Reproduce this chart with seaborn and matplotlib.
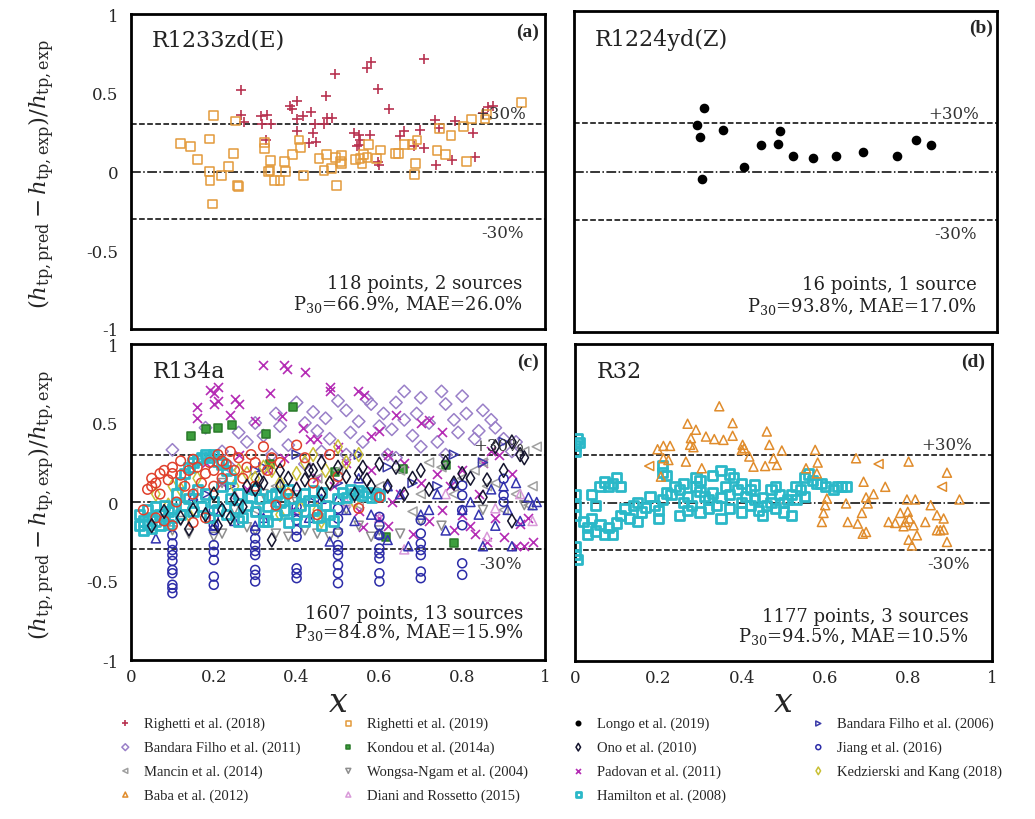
import matplotlib
matplotlib.use("Agg")
import matplotlib.pyplot as plt
import seaborn as sns
import pandas as pd
from matplotlib.ticker import MultipleLocator, FuncFormatter

sns.set_style("white")
plt.rcParams["font.family"] = ["DejaVu Serif"]
plt.rcParams["mathtext.fontset"] = "dejavuserif"
plt.rcParams["axes.unicode_minus"] = False

# ---------------- data (x = vapour quality, y = relative deviation) ----------------
# (a) R1233zd(E)
righetti2018_a = [(.265,.518),(.265,.36),(.273,.313),(.315,.355),(.329,.359),(.316,.30),(.339,.30),(.325,.20),
    (.384,.419),(.39,.40),(.402,.448),(.402,.334),(.416,.355),(.434,.38),(.444,.30),(.44,.243),(.43,.18),(.446,.186),
    (.402,.258),(.471,.482),(.474,.338),(.486,.342),(.466,.30),(.493,.617),(.538,.247),(.55,.233),(.554,.20),(.55,.169),
    (.546,.159),(.569,.655),(.58,.693),(.578,.233),(.596,.524),(.622,.40),(.596,.059),(.598,.042),(.649,.228),(.659,.258),
    (.697,.264),(.708,.715),(.708,.148),(.735,.328),(.745,.275),(.737,.042),(.775,.07),(.783,.321),(.826,.243),(.831,.095),
    (.851,.37),(.863,.412),(.875,.419),(.684,.159)]
righetti2019_a = [(.119,.18),(.143,.159),(.161,.074),(.19,.207),(.199,.355),(.19,0),(.191,-.055),(.197,-.207),(.218,-.025),
    (.235,.032),(.247,.116),(.253,.321),(.257,-.089),(.259,-.095),(.323,.186),(.323,.144),(.333,0),(.336,.004),(.337,.07),
    (.347,-.059),(.36,-.055),(.373,0),(.371,.063),(.391,.11),(.406,.20),(.41,.152),(.416,-.025),(.454,.085),(.466,.008),
    (.472,.11),(.484,.017),(.494,.089),(.508,.10),(.508,.053),(.506,.063),(.496,-.089),(.542,.078),(.553,.085),(.558,.053),
    (.57,.089),(.562,.106),(.574,.169),(.593,.085),(.602,.137),(.639,.116),(.647,.116),(.66,.173),(.679,.169),(.691,.20),
    (.687,.053),(.685,-.021),(.739,.131),(.745,.271),(.759,.11),(.773,.228),(.803,.285),(.81,.063),(.823,.334),(.855,.334),
    (.944,.44),(.858,.36)]
# (b) R1224yd(Z)
longo2019_b = [(.29,.288),(.307,.397),(.299,.218),(.303,-.049),(.352,.259),(.402,.025),(.442,.164),(.482,.173),
    (.488,.251),(.518,.095),(.566,.084),(.62,.099),(.683,.123),(.764,.099),(.809,.197),(.843,.168)]
# (c) R134a
bandara2011_c = [(.10,.33),(.18,.47),(.22,.32),(.26,.44),(.28,.38),(.30,.50),(.32,.42),(.35,.56),(.36,.48),(.38,.36),
    (.40,.63),(.42,.50),(.44,.57),(.45,.45),(.47,.53),(.48,.40),(.50,.64),(.52,.58),(.53,.44),(.55,.51),(.56,.38),(.58,.62),
    (.60,.48),(.61,.56),(.63,.46),(.64,.63),(.66,.52),(.68,.42),(.69,.56),(.70,.66),(.72,.50),(.74,.38),(.75,.70),(.76,.62),
    (.78,.52),(.79,.44),(.80,.67),(.81,.56),(.83,.40),(.84,.45),(.85,.58),(.87,.52),(.88,.47),(.90,.40),(.92,.32),(.93,.38),
    (.62,.30),(.52,.30),(.46,.32),(.34,.30),(.24,.22),(.70,.35),(.76,.30),(.66,.70),(.57,.65),(.64,.28),(.42,.24)]
padovan2011_c = [(.16,.60),(.16,.53),(.19,.71),(.20,.69),(.21,.73),(.20,.62),(.21,.64),(.25,.65),(.26,.62),(.24,.55),
    (.30,.51),(.32,.87),(.336,.69),(.37,.87),(.376,.84),(.364,.545),(.42,.82),(.416,.47),(.432,.40),(.48,.73),(.48,.70),
    (.548,.70),(.564,.68),(.60,.45),(.64,.55),(.70,.50),(.72,.52),(.62,.30),(.58,.42),(.75,.44),(.80,.20),(.85,.25),
    (.18,.25),(.22,.12),(.26,.30),(.28,.08),(.33,.20),(.37,.28),(.39,-.05),(.45,.15),(.49,.10),(.52,.25),(.55,-.06),
    (.58,.20),(.60,-.10),(.62,-.15),(.65,.05),(.68,-.20),(.70,.12),(.72,-.12),(.75,-.05),(.77,.10),(.78,-.18),(.80,-.08),
    (.82,-.15),(.84,.05),(.86,-.25),(.88,-.10),(.90,-.22),(.92,.18),(.93,-.28),(.94,-.14),(.96,-.10),(.97,-.25),(.89,.30),
    (.87,.32),(.74,.18),(.66,.25),(.50,.35),(.45,.40),(.56,-.16),(.63,0),(.83,-.20),(.95,-.28)]
kondou2014_c = [(.144,.42),(.18,.46),(.21,.466),(.244,.49),(.326,.43),(.392,.60),(.336,.24),(.492,.19),(.616,-.22),
    (.76,.235),(.78,-.262),(.656,.21)]
mancin2014_c = [(.15,.06),(.30,-.05),(.35,.10),(.45,.15),(.50,.20),(.55,-.02),(.60,.10),(.65,.20),(.68,-.06),(.72,.25),
    (.75,.22),(.78,.05),(.80,.15),(.83,.20),(.86,.10),(.88,.12),(.90,-.05),(.93,.05),(.96,-.02),(.98,.35),(.95,.32),
    (.97,.10),(.85,.25),(.70,.05)]
wongsa2004_c = [(.10,-.18),(.12,-.12),(.14,-.20),(.20,-.22),(.22,-.20),(.25,-.05),(.28,-.16),(.30,-.18),(.35,-.20),
    (.38,-.22),(.42,-.18),(.45,-.20),(.48,-.22),(.50,-.20),(.55,-.15),(.58,-.22),(.60,-.18),(.65,-.20),(.70,-.12),(.22,.12),
    (.32,.05),(.40,0),(.52,-.05),(.75,-.15),(.85,-.05),(.95,-.02)]
diani2015_c = [(.25,.05),(.52,0),(.66,-.30),(.76,.05),(.86,-.22),(.88,-.04),(.97,-.12),(.94,.05),(.60,-.10),(.40,.10)]
bandara2006_c = [(.18,.05),(.30,.20),(.32,.22),(.40,.30),(.50,.12),(.55,.30),(.62,.22),(.68,.12),(.74,.10),(.78,.30),
    (.85,.25),(.90,.38),(.44,0),(.24,.10)]
uptri_c = [(.06,-.23),(.15,.04),(.20,-.15),(.25,-.12),(.30,-.15),(.32,-.10),(.35,0),(.40,-.05),(.43,-.10),(.46,.02),
    (.50,.02),(.52,-.05),(.54,-.12),(.55,.15),(.58,-.08),(.60,-.20),(.62,.10),(.65,.05),(.67,-.28),(.70,-.08),(.72,-.05),
    (.74,.05),(.76,-.18),(.78,.12),(.80,-.05),(.82,0),(.84,-.08),(.85,-.28),(.87,.08),(.88,-.15),(.90,.10),(.91,-.05),
    (.93,.12),(.94,-.12),(.96,.03),(.97,-.02),(.98,0),(.92,-.28),(.48,-.25),(.62,-.24)]
jiang2016_c = [(.1,-.21),(.1,-.262),(.1,-.304),(.1,-.336),(.1,-.373),(.1,-.43),(.1,-.451),(.1,-.524),(.1,-.545),(.1,-.577),
    (.2,-.052),(.2,-.105),(.2,-.147),(.2,-.178),(.2,-.273),(.2,-.315),(.2,-.367),(.2,-.472),(.2,-.524),
    (.3,-.063),(.3,-.178),(.3,-.231),(.3,-.273),(.3,-.31),(.3,-.336),(.3,-.43),(.3,-.461),(.3,-.503),
    (.4,-.031),(.4,-.084),(.4,-.115),(.4,-.178),(.4,-.22),(.4,-.42),(.4,-.451),(.4,-.482),
    (.5,-.042),(.5,-.105),(.5,-.189),(.5,-.273),(.5,-.304),(.5,-.336),(.5,-.399),(.5,-.451),(.5,-.514),
    (.6,-.094),(.6,-.147),(.6,-.21),(.6,-.294),(.6,-.325),(.6,-.357),(.6,-.451),(.6,-.503),
    (.7,-.115),(.7,-.199),(.7,-.262),(.7,-.304),(.7,-.336),(.7,-.44),(.7,-.482),
    (.8,.105),(.8,.042),(.8,-.052),(.8,-.147),(.8,-.388),(.8,-.461),(.9,.147),(.9,.042),(.9,0)]
kedzierski2018_c = [(.06,.05),(.09,-.02),(.10,.10),(.12,.08),(.14,-.08),(.16,.15),(.20,.05),(.25,.10),(.28,.18),(.30,.15),
    (.32,.22),(.34,.20),(.36,.12),(.38,.05),(.40,.18),(.42,.25),(.44,.30),(.45,-.05),(.47,.20),(.48,.12),(.50,.35),(.52,.25),
    (.54,0),(.41,-.04),(.36,-.08),(.46,-.12),(.26,.20),(.55,.30)]
hamilton2008_c = [(.02,-.08),(.02,-.15),(.03,-.12),(.03,-.18),(.04,-.05),(.04,-.14),(.05,-.10),(.05,-.17),(.06,-.03),
    (.06,-.12),(.07,-.08),(.07,-.15),(.08,-.02),(.08,-.11),(.09,-.06),(.09,-.14),(.10,-.04),(.10,-.10),
    (.11,.05),(.12,.12),(.13,.18),(.14,.22),(.15,.25),(.16,.27),(.17,.28),(.18,.30),(.19,.28),(.20,.30),(.21,.26),(.22,.24),
    (.23,.20),(.24,.15),(.12,-.08),(.13,-.02),(.14,.02),(.15,-.06),(.16,.08),(.17,-.03),(.18,.05),(.19,-.10),(.20,0),
    (.21,-.05),(.22,.10),(.23,-.08),(.24,.02),(.25,-.04),(.26,.05),(.27,-.10),(.28,-.02),(.29,.03),(.30,-.06),(.31,.02),
    (.32,-.12),(.33,-.03),(.34,.04),(.35,-.08),(.36,0),(.37,-.05),(.38,-.13),(.39,.02),(.40,-.08),(.41,-.02),(.42,-.12),
    (.43,.01),(.44,-.05),(.45,-.10),(.46,-.15),(.47,-.02),(.48,-.08),(.49,-.12),(.50,.02),(.51,.06),(.52,.03),(.53,.08),
    (.54,.05),(.55,.07),(.56,.04),(.57,.06),(.58,.03),(.59,.05),(.60,.04),(.35,.05),(.42,.05),(.38,.08),(.30,.08),
    (.26,-.12),(.44,.07),(.46,.06),(.33,-.12)]
redcirc_c = [(.03,-.05),(.04,.08),(.05,.10),(.05,.15),(.06,.12),(.07,.18),(.07,.05),(.08,.20),(.08,-.12),(.09,.14),
    (.10,.18),(.10,.22),(.11,0),(.12,.17),(.12,.26),(.13,.10),(.14,.20),(.15,.27),(.15,.05),(.16,.22),(.17,.12),(.18,.18),
    (.18,-.10),(.19,.25),(.20,.20),(.21,.30),(.22,.15),(.22,.26),(.23,.24),(.24,.32),(.25,.20),(.26,.28),(.27,.15),
    (.28,.22),(.29,.30),(.30,.10),(.30,.25),(.32,.35),(.33,.20),(.34,.28),(.35,-.02),(.36,.25),(.38,.05),(.40,.36),
    (.42,.28),(.44,.12),(.45,-.08),(.15,-.13),(.10,-.15),(.06,-.10),(.55,-.04),(.48,.30),(.50,.16),(.60,.03),(.20,.10)]
ono2010_c = [(.05,-.15),(.08,-.06),(.12,-.10),(.15,-.05),(.14,-.17),(.18,-.08),(.20,.05),(.21,-.15),(.22,-.05),(.24,-.10),
    (.25,.02),(.28,.10),(.30,.08),(.32,.12),(.34,-.24),(.36,.10),(.38,.15),(.40,.08),(.42,.14),(.44,.20),(.46,.05),(.48,.12),
    (.50,.22),(.52,.16),(.54,.05),(.55,.18),(.56,.22),(.58,.10),(.60,.24),(.62,.10),(.64,.22),(.66,.05),(.68,.15),(.70,.20),
    (.72,.08),(.76,.25),(.78,.12),(.80,.18),(.82,.15),(.86,.14),(.88,.35),(.90,.20),(.92,.38),(.94,.30),(.95,.28),(.92,-.12),
    (.85,.03),(.46,.25),(.36,.20),(.27,-.03),(.31,.14),(.43,.20),(.57,.14)]
# (d) R32
hamilton2008_d = [(0,.32),(0,.36),(.005,.40),(.01,.38),(0,.05),(0,-.02),(0,-.08),(0,-.28),(0,-.33),(.005,-.36),
    (.02,-.12),(.03,-.16),(.03,-.20),(.04,-.10),(.05,-.18),(.06,-.14),(.07,-.20),(.08,-.16),(.09,-.20),(.10,-.13),
    (.04,.05),(.05,-.02),(.06,.10),(.07,.13),(.08,.10),(.09,.12),(.10,.16),(.11,.10),(.11,-.08),(.12,-.04),(.13,-.10),
    (.14,-.02),(.15,0),(.16,-.06),(.17,-.03),(.18,.04),(.19,-.02),(.20,-.05),(.21,.02),(.22,.06),(.23,.05),(.24,.10),
    (.25,.08),(.26,0),(.27,.04),(.28,-.02),(.29,.10),(.30,.07),(.31,.04),(.32,.02),(.33,.06),(.34,-.02),(.35,.03),
    (.36,.10),(.37,.05),(.38,.16),(.39,.08),(.40,0),(.41,.04),(.42,.08),(.43,.02),(.44,-.05),(.45,.03),(.46,-.02),
    (.47,0),(.48,.10),(.49,.05),(.50,0),(.51,.02),(.21,.19),(.21,.23),(.22,.17),(.26,.12),(.29,.16),(.33,.17),(.37,.18),
    (.35,.20),(.30,.14),(.40,.12),(.43,.11),(.47,.08),(.52,.05),(.55,.16),(.56,.18),(.57,.14),(.58,.12),(.59,.12),
    (.60,.10),(.62,.08),(.63,.10),(.64,.10),(.65,.10),(.53,.10),(.54,.08),(.55,.04),(.53,.02),(.15,-.12),(.20,-.10),
    (.25,-.08),(.30,-.06),(.35,-.10),(.40,-.06),(.45,-.08),(.50,-.06),(.52,-.08),(.48,-.04),(.27,-.05),(.32,-.04),
    (.37,-.04),(.42,-.02)]
baba2012_d = [(.346,.607),(.27,.497),(.29,.459),(.278,.406),(.276,.364),(.284,.349),(.314,.416),(.334,.40),(.356,.395),
    (.378,.501),(.378,.421),(.402,.364),(.406,.343),(.40,.332),(.418,.29),(.46,.448),(.466,.364),(.496,.328),(.476,.279),
    (.484,.237),(.456,.23),(.428,.226),(.198,.336),(.212,.357),(.228,.357),(.212,.279),(.224,.268),(.266,.258),(.304,.216),
    (.206,.163),(.554,.216),(.576,.332),(.582,.252),(.58,.184),(.674,.279),(.80,.258),(.892,.188),(.692,.131),(.744,.099),
    (.716,.053),(.698,.032),(.702,-.006),(.688,-.066),(.604,.025),(.60,-.017),(.596,-.066),(.592,-.123),(.65,-.006),
    (.654,-.123),(.678,-.133),(.69,-.197),(.698,-.186),(.752,-.123),(.768,-.129),(.796,.019),(.816,.019),(.78,-.066),
    (.798,-.059),(.802,-.101),(.792,-.123),(.788,-.15),(.812,-.144),(.82,-.207),(.80,-.235),(.808,-.271),(.84,-.123),
    (.853,-.017),(.868,-.08),(.884,-.101),(.876,-.175),(.868,-.175),(.884,-.171),(.892,-.249),(.922,.019)]
lefttri_d = [(.88,.099),(.178,.23),(.728,.243)]

# ---------------- styles ----------------
STY = {
    "Righetti et al. (2018)": dict(marker="+", color="#b83250", s=46, hollow=False),
    "Righetti et al. (2019)": dict(marker="s", color="#e39a3b", s=40, hollow=True),
    "Longo et al. (2019)": dict(marker="o", color="black", s=34, hollow=False),
    "Bandara Filho et al. (2006)": dict(marker=">", color="#3a3aa8", s=42, hollow=True),
    "Bandara Filho et al. (2011)": dict(marker="D", color="#9a80c8", s=40, hollow=True),
    "Kondou et al. (2014a)": dict(marker="s", color="#3d9e3d", s=36, hollow=False),
    "Ono et al. (2010)": dict(marker="d", color="#15152e", s=50, hollow=True),
    "Jiang et al. (2016)": dict(marker="o", color="#2c2ca8", s=42, hollow=True),
    "Mancin et al. (2014)": dict(marker="<", color="#a0a0a0", s=42, hollow=True),
    "Wongsa-Ngam et al. (2004)": dict(marker="v", color="#8e8e8e", s=42, hollow=True),
    "Padovan et al. (2011)": dict(marker="x", color="#b42cb4", s=42, hollow=False),
    "Kedzierski and Kang (2018)": dict(marker="d", color="#c9c035", s=50, hollow=True),
    "Baba et al. (2012)": dict(marker="^", color="#e08c2c", s=42, hollow=True),
    "Diani and Rossetto (2015)": dict(marker="^", color="#d99ad9", s=42, hollow=True),
    "Hamilton et al. (2008)": dict(marker="s", color="#2bb8c8", s=44, hollow=True, lw=2.0),
    "_red": dict(marker="o", color="#e0402c", s=48, hollow=True),
    "_uptri": dict(marker="^", color="#3434b0", s=42, hollow=True),
    "_lefttri": dict(marker="<", color="#e08c2c", s=42, hollow=True),
}

W, H = 1035, 820
fig = plt.figure(figsize=(W / 100, H / 100), dpi=100)


def add_ax(l, t, r, b):
    return fig.add_axes([l / W, 1 - b / H, (r - l) / W, (b - t) / H])


ax_a = add_ax(131, 15, 545, 330)
ax_b = add_ax(574, 12, 997, 333)
ax_c = add_ax(131, 345, 545, 661)
ax_d = add_ax(575, 345, 992, 662)

handles = {}


def draw(ax, pts, name):
    st = STY[name]
    df = pd.DataFrame(pts, columns=["x", "y"])
    kw = dict(marker=st["marker"], s=st["s"], linewidth=st.get("lw", 1.1))
    if st["hollow"]:
        kw.update(facecolor="none", edgecolor=st["color"])
    elif st["marker"] in ("+", "x"):
        kw.update(color=st["color"], linewidth=1.2)
    else:
        kw.update(color=st["color"], edgecolor=st["color"] if name != "Kondou et al. (2014a)" else "#2a7a2a")
    sns.scatterplot(data=df, x="x", y="y", ax=ax, legend=False, label=name, zorder=3, **kw)
    if not name.startswith("_"):
        handles[name] = ax.collections[-1]


draw(ax_a, righetti2018_a, "Righetti et al. (2018)")
draw(ax_a, righetti2019_a, "Righetti et al. (2019)")
draw(ax_b, longo2019_b, "Longo et al. (2019)")

draw(ax_c, bandara2011_c, "Bandara Filho et al. (2011)")
draw(ax_c, padovan2011_c, "Padovan et al. (2011)")
draw(ax_c, kondou2014_c, "Kondou et al. (2014a)")
draw(ax_c, mancin2014_c, "Mancin et al. (2014)")
draw(ax_c, wongsa2004_c, "Wongsa-Ngam et al. (2004)")
draw(ax_c, diani2015_c, "Diani and Rossetto (2015)")
draw(ax_c, bandara2006_c, "Bandara Filho et al. (2006)")
draw(ax_c, uptri_c, "_uptri")
draw(ax_c, jiang2016_c, "Jiang et al. (2016)")
draw(ax_c, kedzierski2018_c, "Kedzierski and Kang (2018)")
draw(ax_c, hamilton2008_c, "Hamilton et al. (2008)")
draw(ax_c, redcirc_c, "_red")
draw(ax_c, ono2010_c, "Ono et al. (2010)")

draw(ax_d, hamilton2008_d, "Hamilton et al. (2008)")
draw(ax_d, baba2012_d, "Baba et al. (2012)")
draw(ax_d, lefttri_d, "_lefttri")

fmt = FuncFormatter(lambda v, p: "%g" % round(v, 2))

panel_txt = {
    ax_a: dict(name="R1233zd(E)", tag="(a)", l1="118 points, 2 sources", l2=r"P$_{30}$=66.9%, MAE=26.0%",
               nx=0.05, ny=0.835, tx=0.985, ty=0.89, px=0.953, p30=0.37, m30=-0.39, sx=0.946, s1=-0.708, s2=-0.835),
    ax_b: dict(name="R1224yd(Z)", tag="(b)", l1="16 points, 1 source", l2=r"P$_{30}$=93.8%, MAE=17.0%",
               nx=0.048, ny=0.828, tx=0.99, ty=0.9, px=0.958, p30=0.36, m30=-0.384, sx=0.952, s1=-0.703, s2=-0.836),
    ax_c: dict(name="R134a", tag="(c)", l1="1607 points, 13 sources", l2=r"P$_{30}$=84.8%, MAE=15.9%",
               nx=0.052, ny=0.829, tx=0.984, ty=0.89, px=0.95, p30=0.36, m30=-0.388, sx=0.948, s1=-0.703, s2=-0.818),
    ax_d: dict(name="R32", tag="(d)", l1="1177 points, 3 sources", l2=r"P$_{30}$=94.5%, MAE=10.5%",
               nx=0.052, ny=0.829, tx=0.984, ty=0.89, px=0.952, p30=0.364, m30=-0.387, sx=0.944, s1=-0.715, s2=-0.84),
}

for ax in (ax_a, ax_b, ax_c, ax_d):
    ax.set_xlim(0, 1)
    ax.set_ylim(-1, 1)
    ax.set_xlabel("")
    ax.set_ylabel("")
    ax.xaxis.set_major_locator(MultipleLocator(0.2))
    ax.xaxis.set_minor_locator(MultipleLocator(0.1))
    ax.yaxis.set_major_locator(MultipleLocator(0.5))
    ax.yaxis.set_minor_locator(MultipleLocator(0.25))
    ax.xaxis.set_major_formatter(fmt)
    ax.yaxis.set_major_formatter(fmt)
    ax.tick_params(axis="both", which="both", direction="in", top=False, right=False, width=1.2, labelsize=12)
    ax.tick_params(axis="x", which="major", length=7, pad=6)
    ax.tick_params(axis="x", which="minor", length=4)
    ax.tick_params(axis="y", which="both", length=5, pad=9)
    for sp in ax.spines.values():
        sp.set_linewidth(2.0)
        sp.set_color("black")
    ax.axhline(0.3, ls="--", color="black", lw=1.1, zorder=2)
    ax.axhline(-0.3, ls="--", color="black", lw=1.1, zorder=2)
    ax.axhline(0.0, ls="-.", color="black", lw=1.1, zorder=2)
    t = panel_txt[ax]
    ax.text(t["nx"], t["ny"], t["name"], fontsize=16, ha="left", va="center", color="#222222", zorder=5)
    ax.text(t["tx"], t["ty"], t["tag"], fontsize=14, ha="right", va="center", fontweight="bold",
            family=["Liberation Serif"], zorder=5)
    ax.text(t["px"], t["p30"], "+30%", fontsize=12, ha="right", va="center", color="#333333", zorder=5)
    ax.text(t["px"] - 0.005, t["m30"], "-30%", fontsize=12, ha="right", va="center", color="#333333", zorder=5)
    ax.text(t["sx"], t["s1"], t["l1"], fontsize=13, ha="right", va="center", color="#222222", zorder=5)
    ax.text(t["sx"], t["s2"], t["l2"], fontsize=13, ha="right", va="center", color="#222222", zorder=5)

for ax in (ax_a, ax_b):
    ax.tick_params(axis="x", labelbottom=False)
for ax in (ax_b, ax_d):
    ax.tick_params(axis="y", labelleft=False)

ylab = r"$(h_{\mathrm{tp,pred}}-h_{\mathrm{tp,exp}})/h_{\mathrm{tp,exp}}$"
fig.text(42 / W, 1 - 174 / H, ylab, rotation=90, ha="center", va="center", fontsize=16.5)
fig.text(42 / W, 1 - 505 / H, ylab, rotation=90, ha="center", va="center", fontsize=16.5)
fig.text(338 / W, 1 - 703 / H, r"$x$", ha="center", va="center", fontsize=24)
fig.text(783 / W, 1 - 703 / H, r"$x$", ha="center", va="center", fontsize=24)

columns = [
    (118, ["Righetti et al. (2018)", "Bandara Filho et al. (2011)", "Mancin et al. (2014)", "Baba et al. (2012)"]),
    (341, ["Righetti et al. (2019)", "Kondou et al. (2014a)", "Wongsa-Ngam et al. (2004)", "Diani and Rossetto (2015)"]),
    (571, ["Longo et al. (2019)", "Ono et al. (2010)", "Padovan et al. (2011)", "Hamilton et al. (2008)"]),
    (811, ["Bandara Filho et al. (2006)", "Jiang et al. (2016)", "Kedzierski and Kang (2018)"]),
]
for x0, names in columns:
    fig.legend([handles[n] for n in names], names, loc="upper left", bbox_to_anchor=(x0 / W, 1 - 718 / H),
               frameon=False, handlelength=1.0, handletextpad=0.8, borderpad=0, borderaxespad=0,
               labelspacing=0.7, markerscale=0.55, prop=dict(family="Liberation Serif", size=10.5))

fig.savefig("out.png", dpi=100)
